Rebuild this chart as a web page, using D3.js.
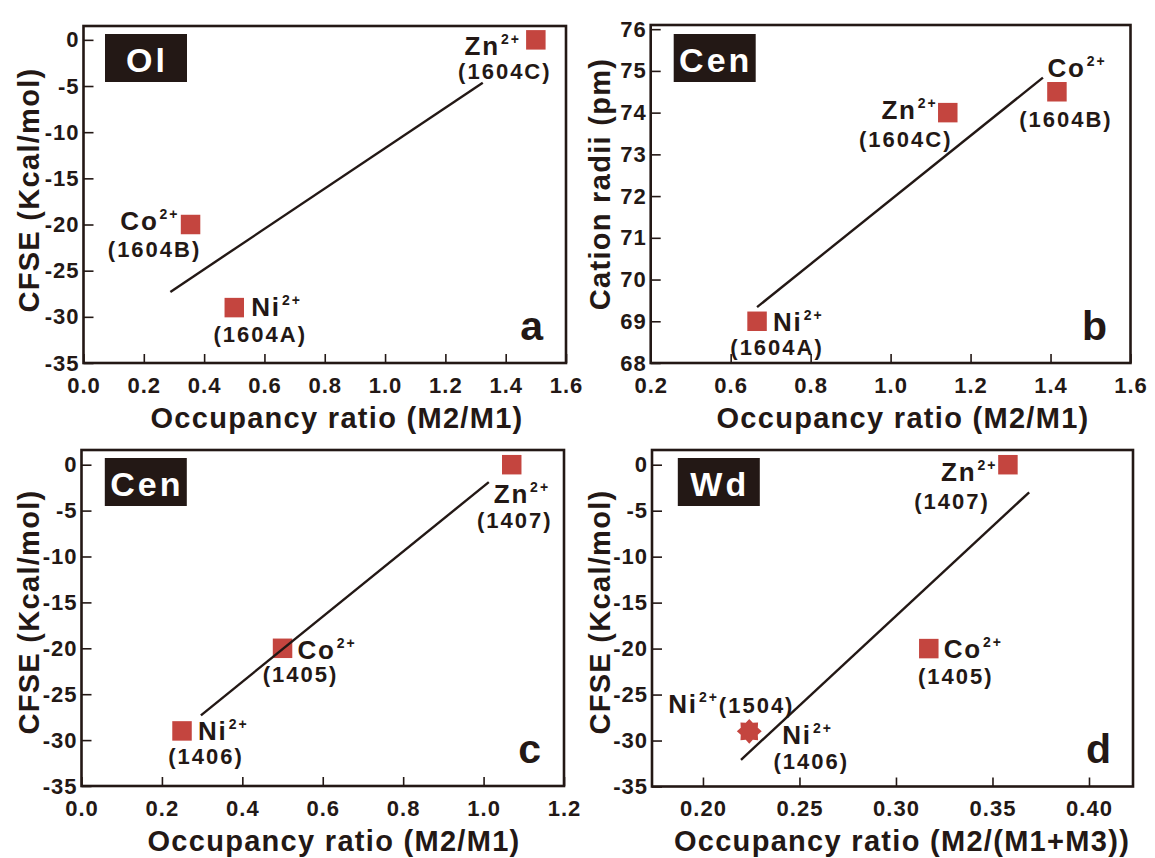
<!DOCTYPE html>
<html>
<head>
<meta charset="utf-8">
<script src="https://cdn.jsdelivr.net/npm/d3@7/dist/d3.min.js"></script>
<style>
  html, body { margin: 0; padding: 0; background: #fff; }
  svg { display: block; }
  text { font-family: "Liberation Sans", Arial, Helvetica, sans-serif; font-weight: bold; fill: #231815; }
  .tick text { font-size: 22px; letter-spacing: 1px; }
  .tick line { stroke: #231815; stroke-width: 1.6px; }
  .ion { font-size: 26px; letter-spacing: 1.8px; }
  .sample { font-size: 22px; letter-spacing: 2px; }
  .title { font-size: 29px; letter-spacing: 1.3px; }
  .letter { font-size: 41px; }
  .boxtext { font-size: 34px; letter-spacing: 3px; fill: #fff; }
</style>
</head>
<body>
<svg id="chart" width="1155" height="858"></svg>
<script>
// ---------------- DATA ----------------
// Panel a : Ol
const olIons      = ["Co", "Ni", "Zn"];
const olSamples   = ["(1604B)", "(1604A)", "(1604C)"];
const olRatio     = [0.355, 0.50, 1.50];
const olCFSE      = [-20, -29, 0];
const olFitX      = [0.288, 1.324];
const olFitY      = [-27.3, -4.65];

// Panel b : Cen (cation radii)
const cenBIons    = ["Ni", "Zn", "Co"];
const cenBSamples = ["(1604A)", "(1604C)", "(1604B)"];
const cenBRatio   = [0.666, 1.143, 1.416];
const cenBRadii   = [69.0, 74.0, 74.5];
const cenBFitX    = [0.666, 1.381];
const cenBFitY    = [69.34, 74.84];

// Panel c : Cen (CFSE)
const cenCIons    = ["Ni", "Co", "Zn"];
const cenCSamples = ["(1406)", "(1405)", "(1407)"];
const cenCRatio   = [0.25, 0.50, 1.07];
const cenCCFSE    = [-29, -20, 0];
const cenCFitX    = [0.297, 1.013];
const cenCFitY    = [-27.3, -1.9];

// Panel d : Wd
const wdIons      = ["Ni", "Co", "Zn"];
const wdSamples   = ["(1504)", "(1405)", "(1407)"];
const wdRatio     = [0.224, 0.317, 0.358];
const wdCFSE      = [-29, -20, 0];
const wdMarkers   = ["star", "square", "square"];
const wdExtraIon  = "Ni";
const wdExtraSample = "(1406)";
const wdFitX      = [0.2197, 0.369];
const wdFitY      = [-32.1, -3.0];

// Ticks
const cfseTicks   = [0, -5, -10, -15, -20, -25, -30, -35];
const radiiTicks  = [76, 75, 74, 73, 72, 71, 70, 69, 68];
const ratioTicksA = [0.0, 0.2, 0.4, 0.6, 0.8, 1.0, 1.2, 1.4, 1.6];
const ratioTicksB = [0.4, 0.6, 0.8, 1.0, 1.2, 1.4, 1.6];
const ratioTickLabelsB = ["0.2", "0.6", "0.8", "1.0", "1.2", "1.4", "1.6"];
const ratioTicksC = [0.0, 0.2, 0.4, 0.6, 0.8, 1.0, 1.2];
const ratioTicksD = [0.20, 0.25, 0.30, 0.35, 0.40];

const panelNames  = ["Ol", "Cen", "Cen", "Wd"];
const panelLetters = ["a", "b", "c", "d"];
const xTitles = ["Occupancy ratio (M2/M1)", "Occupancy ratio (M2/M1)", "Occupancy ratio (M2/M1)", "Occupancy ratio (M2/(M1+M3))"];
const yTitles = ["CFSE (Kcal/mol)", "Cation radii (pm)", "CFSE (Kcal/mol)", "CFSE (Kcal/mol)"];

// ---------------- STYLE / LAYOUT ----------------
const INK = "#231815";
const RED = "#c4453f";
const svg = d3.select("#chart");
svg.append("rect").attr("width", 1155).attr("height", 858).attr("fill", "#fff");

const star8 = {
  draw(ctx, size) {
    const R = Math.sqrt(size) / 2, r = R * 0.74, n = 8;
    for (let i = 0; i < 2 * n; i++) {
      const a = Math.PI * i / n - Math.PI / 2;
      const rr = i % 2 === 0 ? R : r;
      const px = rr * Math.cos(a), py = rr * Math.sin(a);
      if (i === 0) ctx.moveTo(px, py); else ctx.lineTo(px, py);
    }
    ctx.closePath();
  }
};

function ionText(g, x, y, ion, anchor, tail) {
  const t = g.append("text").attr("class", "ion").attr("x", x).attr("y", y).attr("text-anchor", anchor);
  t.append("tspan").text(ion);
  t.append("tspan").attr("dx", 1).attr("dy", -11).style("font-size", "14px").style("letter-spacing", "2px").text("2+");
  if (tail) t.append("tspan").attr("dy", 11).style("font-size", "22px").style("letter-spacing", "2px").text(tail);
}

function drawPanel(p) {
  const g = svg.append("g");
  const x = d3.scaleLinear().domain(p.xDomain).range([p.l, p.r]);
  const y = d3.scaleLinear().domain(p.yDomain).range([p.b, p.t]);

  const ax = g.append("g").attr("transform", `translate(0,${p.b})`)
    .call(d3.axisBottom(x).tickValues(p.xTicks).tickSize(-9).tickPadding(14)
      .tickFormat((d, i) => p.xLabels[i]));
  ax.select(".domain").remove();
  const ay = g.append("g").attr("transform", `translate(${p.l},0)`)
    .call(d3.axisLeft(y).tickValues(p.yTicks).tickSize(-10).tickPadding(4)
      .tickFormat(d => String(d)));
  ay.select(".domain").remove();
  g.selectAll(".tick text").attr("fill", INK);

  g.append("rect").attr("x", p.l).attr("y", p.t).attr("width", p.r - p.l).attr("height", p.b - p.t)
    .attr("fill", "none").attr("stroke", INK).attr("stroke-width", 2.6);

  g.append("rect").attr("x", p.box[0]).attr("y", p.box[1]).attr("width", 82).attr("height", 48).attr("fill", INK);
  g.append("text").attr("class", "boxtext").attr("x", p.box[0] + 42).attr("y", p.box[1] + 38)
    .attr("text-anchor", "middle").text(p.name);

  p.xs.forEach((xv, i) => {
    const type = p.markers && p.markers[i] === "star" ? star8 : d3.symbolSquare;
    const size = type === star8 ? 620 : 380;
    g.append("path").attr("d", d3.symbol().type(type).size(size)())
      .attr("transform", `translate(${x(xv)},${y(p.ys[i])})`).attr("fill", RED);
  });

  g.append("path").datum(p.fitX.map((v, i) => [v, p.fitY[i]]))
    .attr("d", d3.line().x(d => x(d[0])).y(d => y(d[1])))
    .attr("stroke", INK).attr("stroke-width", 2.4).attr("fill", "none");

  p.xs.forEach((xv, i) => {
    const px = x(xv), py = y(p.ys[i]);
    const o = p.offsets[i];
    if (o.combined) {
      ionText(g, px + o.ion[0], py + o.ion[1], p.ions[i], o.ion[2], p.samples[i]);
    } else {
      ionText(g, px + o.ion[0], py + o.ion[1] - 1, p.ions[i], o.ion[2]);
      g.append("text").attr("class", "sample").attr("x", px + o.s[0]).attr("y", py + o.s[1] + 2)
        .attr("text-anchor", "middle").text(p.samples[i]);
    }
  });
  if (p.extra) p.extra(g, x, y);

  g.append("text").attr("class", "letter").attr("x", p.letterPos[0]).attr("y", p.letterPos[1])
    .attr("text-anchor", "end").text(p.letter);

  g.append("text").attr("class", "title").attr("x", p.xTitlePos[0]).attr("y", p.xTitlePos[1])
    .attr("text-anchor", "middle").text(p.xTitle);
  g.append("text").attr("class", "title").attr("text-anchor", "middle").attr("dy", "0.36em")
    .attr("transform", `translate(${p.yTitlePos[0]},${p.yTitlePos[1]}) rotate(-90)`).text(p.yTitle);
}

const fmt1 = d3.format(".1f"), fmt2 = d3.format(".2f");

drawPanel({
  l: 83.5, r: 566, t: 26, b: 363,
  xDomain: [0, 1.6], yDomain: [-35, 1.5],
  xTicks: ratioTicksA, xLabels: ratioTicksA.map(fmt1), yTicks: cfseTicks,
  xs: olRatio, ys: olCFSE, ions: olIons, samples: olSamples,
  fitX: olFitX, fitY: olFitY,
  offsets: [
    { ion: [-11, 6, "end"], s: [-36, 30] },
    { ion: [17, 9, "start"], s: [26, 32] },
    { ion: [-15, 16, "end"], s: [-31, 37] }
  ],
  box: [105, 34], name: panelNames[0], letter: panelLetters[0], letterPos: [543, 340],
  xTitle: xTitles[0], xTitlePos: [337, 428], yTitle: yTitles[0], yTitlePos: [28.5, 190]
});

drawPanel({
  l: 650.7, r: 1130.5, t: 25, b: 363,
  xDomain: [0.4, 1.6], yDomain: [68, 76.1],
  xTicks: ratioTicksB, xLabels: ratioTickLabelsB, yTicks: radiiTicks,
  xs: cenBRatio, ys: cenBRadii, ions: cenBIons, samples: cenBSamples,
  fitX: cenBFitX, fitY: cenBFitY,
  offsets: [
    { ion: [16, 11, "start"], s: [20, 32] },
    { ion: [-10, 7, "end"], s: [-42, 32] },
    { ion: [-9.5, -14, "start"], s: [9, 33] }
  ],
  box: [673.7, 34], name: panelNames[1], letter: panelLetters[1], letterPos: [1107, 340],
  xTitle: xTitles[1], xTitlePos: [903, 428], yTitle: yTitles[1], yTitlePos: [600, 184]
});

drawPanel({
  l: 81.5, r: 564, t: 450, b: 786,
  xDomain: [0, 1.2], yDomain: [-35, 1.6],
  xTicks: ratioTicksC, xLabels: ratioTicksC.map(fmt1), yTicks: cfseTicks,
  xs: cenCRatio, ys: cenCCFSE, ions: cenCIons, samples: cenCSamples,
  fitX: cenCFitX, fitY: cenCFitY,
  offsets: [
    { ion: [16, 10, "start"], s: [24, 31] },
    { ion: [15, 12, "start"], s: [18, 32] },
    { ion: [-18, 39, "start"], s: [3, 61] }
  ],
  box: [104.8, 458], name: panelNames[2], letter: panelLetters[2], letterPos: [541, 763],
  xTitle: xTitles[2], xTitlePos: [334, 851], yTitle: yTitles[2], yTitlePos: [28.5, 612]
});

drawPanel({
  l: 652, r: 1133, t: 450, b: 786.5,
  xDomain: [0.1736, 0.4228], yDomain: [-35, 1.6],
  xTicks: ratioTicksD, xLabels: ratioTicksD.map(fmt2), yTicks: cfseTicks,
  xs: wdRatio, ys: wdCFSE, ions: wdIons, samples: wdSamples, markers: wdMarkers,
  fitX: wdFitX, fitY: wdFitY,
  offsets: [
    { ion: [-81, -18, "start"], combined: true },
    { ion: [15, 10, "start"], s: [27, 33] },
    { ion: [-10.5, 17, "end"], s: [-56, 42] }
  ],
  extra: (g, x, y) => {
    const px = x(wdRatio[0]), py = y(wdCFSE[0]);
    ionText(g, px + 33, py + 13, wdExtraIon, "start");
    g.append("text").attr("class", "sample").attr("x", px + 62).attr("y", py + 38)
      .attr("text-anchor", "middle").text(wdExtraSample);
  },
  box: [677.8, 458], name: panelNames[3], letter: panelLetters[3], letterPos: [1111, 763],
  xTitle: xTitles[3], xTitlePos: [902, 851], yTitle: yTitles[3], yTitlePos: [600, 612]
});
</script>
</body>
</html>
